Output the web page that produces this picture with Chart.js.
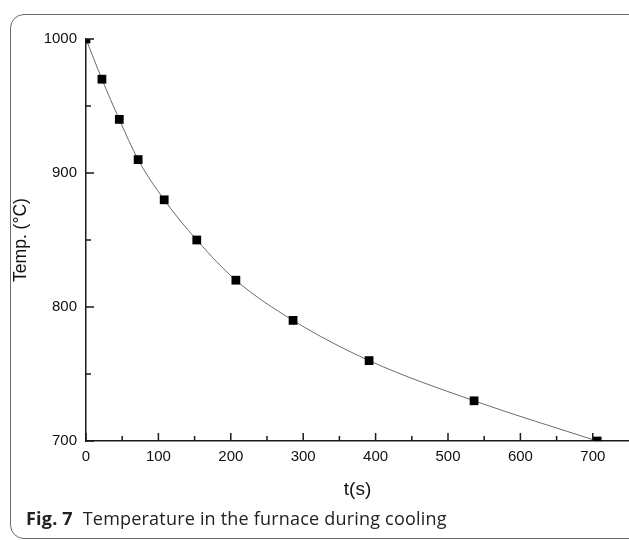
<!DOCTYPE html>
<html>
<head>
<meta charset="utf-8">
<script src="https://cdn.jsdelivr.net/npm/chart.js@4/dist/chart.umd.min.js"></script>
<style>
  html, body { margin:0; padding:0; background:#fff; width:629px; height:540px; overflow:hidden; }
  .frame { position:absolute; left:10px; top:14px; width:660px; height:525px;
           border:1.5px solid #6a6a6a; border-radius:14px; box-sizing:border-box; }
  .wrap { position:absolute; left:0; top:0; width:629px; height:540px; }
  .caption { position:absolute; left:26px; top:506px; font-family:"Open Sans", "Noto Sans", sans-serif;
             font-size:18px; color:#222; white-space:nowrap; letter-spacing:0.2px; }
  .caption b { font-weight:700; margin-right:5px; }
</style>
</head>
<body>
<div class="frame"></div>
<div class="wrap"><canvas id="chart" width="629" height="540"></canvas></div>
<div class="caption"><b>Fig. 7</b> Temperature in the furnace during cooling</div>
<script>
// data
const timeSec = [0, 22, 46, 72, 108, 153, 207, 286, 391, 536, 706];
const tempC   = [1000, 970, 940, 910, 880, 850, 820, 790, 760, 730, 700];

// axes
const xTicks = [0, 100, 200, 300, 400, 500, 600, 700];
const xMinor = [50, 150, 250, 350, 450, 550, 650];
const yTicks = [700, 800, 900, 1000];
const yMinor = [750, 850, 950];

const AXIS = "#1a1a1a";
const FAMILY = "'Liberation Sans', Arial, sans-serif";
const tickFont = { family: FAMILY, size: 15 };

// inward tick marks, Origin style
const innerTicks = {
  id: "innerTicks",
  afterDraw(chart) {
    const { ctx, chartArea: a, scales: { x, y } } = chart;
    ctx.save();
    ctx.strokeStyle = AXIS;
    ctx.lineWidth = 1.5;
    ctx.beginPath();
    const tx = (v, len) => { const p = x.getPixelForValue(v); ctx.moveTo(p, a.bottom); ctx.lineTo(p, a.bottom - len); };
    const ty = (v, len) => { const p = y.getPixelForValue(v); ctx.moveTo(a.left, p); ctx.lineTo(a.left + len, p); };
    xTicks.forEach(v => tx(v, 8));
    xMinor.forEach(v => tx(v, 5));
    yTicks.forEach(v => ty(v, 8));
    yMinor.forEach(v => ty(v, 5));
    ctx.stroke();
    ctx.restore();
  }
};

new Chart(document.getElementById("chart"), {
  type: "scatter",
  data: {
    datasets: [{
      data: timeSec.map((t, i) => ({ x: t, y: tempC[i] })),
      showLine: true,
      cubicInterpolationMode: "monotone",
      borderColor: "#6b6b6b",
      borderWidth: 1,
      pointStyle: "rect",
      pointRadius: 6.2,
      pointBackgroundColor: "#000",
      pointBorderColor: "#000",
      pointBorderWidth: 0,
      clip: 0
    }]
  },
  options: {
    responsive: false,
    animation: false,
    events: [],
    layout: { autoPadding: false, padding: { top: 39, right: 0, left: 0, bottom: 0 } },
    plugins: { legend: { display: false }, tooltip: { enabled: false } },
    scales: {
      x: {
        type: "linear", min: 0, max: 750,
        afterBuildTicks: s => { s.ticks = xTicks.map(v => ({ value: v })); },
        afterFit: s => { s.height = 99; s.paddingLeft = 0; s.paddingRight = 0; },
        grid: { display: false, drawTicks: false },
        border: { display: true, color: AXIS, width: 1.5 },
        ticks: { color: "#111", font: tickFont, padding: 7, maxRotation: 0, callback: v => String(v) },
        title: { display: true, text: "t(s)", color: "#111",
                 font: { family: FAMILY, size: 19 }, padding: { top: 0, bottom: 39 } }
      },
      y: {
        type: "linear", min: 700, max: 1000,
        afterBuildTicks: s => { s.ticks = yTicks.map(v => ({ value: v })); },
        afterFit: s => { s.width = 86; s.paddingTop = 0; s.paddingBottom = 0; },
        grid: { display: false, drawTicks: false },
        border: { display: true, color: AXIS, width: 1.5 },
        ticks: { color: "#111", font: tickFont, padding: 9, callback: v => String(v) },
        title: { display: true, text: "Temp. (°C)", color: "#111",
                 font: { family: FAMILY, size: 17.5 }, padding: { top: 11, bottom: 0 } }
      }
    }
  },
  plugins: [innerTicks]
});
</script>
</body>
</html>
